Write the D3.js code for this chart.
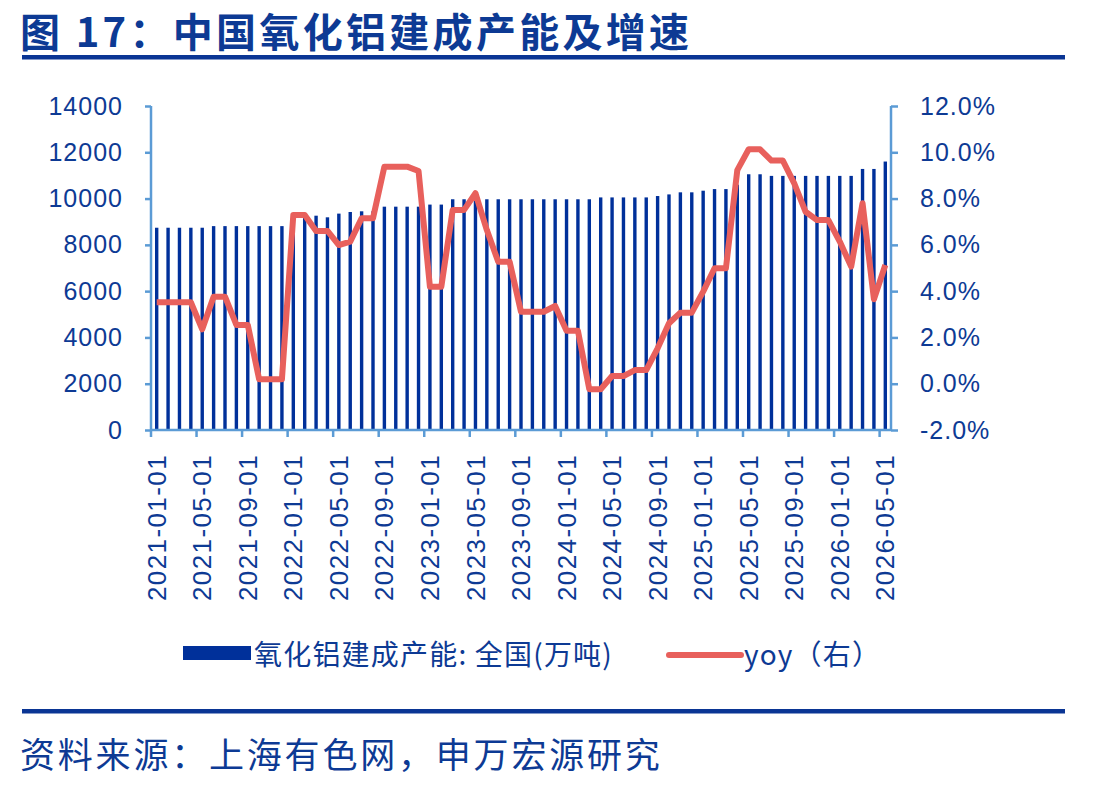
<!DOCTYPE html>
<html>
<head>
  <meta charset="utf-8" />
  <title>图 17：中国氧化铝建成产能及增速</title>
  <script src="https://cdn.jsdelivr.net/npm/d3@7"></script>
  <style>
    body { margin: 0; background: #fff; }
    svg { display: block; }
    .num { font-family: "Liberation Sans", Arial, sans-serif; fill: #0d3a94; }
    .cjk { font-family: "Noto Sans CJK SC", "Liberation Sans", sans-serif; fill: #0d3a94; }
  </style>
</head>
<body>
  <svg id="chart" width="1100" height="787"></svg>
  <script>
    // months 2021-01 .. 2026-05
    const months = d3.timeMonth.range(new Date(2021, 0, 1), new Date(2026, 5, 1)).map(d3.timeFormat("%Y-%m-%d"));

    // 氧化铝建成产能: 全国 (万吨)
    const capacity = [
      8740, 8740, 8740, 8740, 8740, 8810, 8810, 8810, 8810, 8810, 8810, 8810,
      9260, 9260, 9260, 9190, 9350, 9420, 9450, 9450, 9650, 9650, 9650, 9650,
      9740, 9740, 9970, 9970, 9970, 9970, 9970, 9970, 9970, 9970, 9970, 9970,
      9970, 9970, 9970, 10050, 10050, 10050, 10050, 10050, 10110, 10180, 10270, 10270,
      10340, 10410, 10410, 10600, 11050, 11050, 10980, 10980, 10980, 10980, 10980, 10980,
      10980, 10980, 11280, 11280, 11600
    ];

    // yoy (%), right axis
    const yoy = [
      3.52, 3.52, 3.52, 3.52, 2.35, 3.76, 3.76, 2.54, 2.54, 0.19, 0.19, 0.19,
      7.29, 7.29, 6.6, 6.6, 5.99, 6.14, 7.15, 7.15, 9.38, 9.38, 9.38, 9.19,
      4.19, 4.19, 7.51, 7.51, 8.23, 6.64, 5.27, 5.27, 3.11, 3.11, 3.11, 3.36,
      2.29, 2.29, -0.24, -0.24, 0.33, 0.33, 0.59, 0.59, 1.53, 2.61, 3.07, 3.07,
      3.98, 4.99, 4.99, 9.23, 10.13, 10.13, 9.64, 9.64, 8.66, 7.43, 7.07, 7.07,
      6.14, 5.06, 7.8, 3.65, 5.13
    ];

    const leftTicks = [0, 2000, 4000, 6000, 8000, 10000, 12000, 14000];
    const rightTicks = [-2, 0, 2, 4, 6, 8, 10, 12];

    const title = "图 17：中国氧化铝建成产能及增速";
    const source = "资料来源：上海有色网，申万宏源研究";
    const legendBar = "氧化铝建成产能: 全国(万吨)";
    const legendLine = "yoy（右）";

    const svg = d3.select("#chart");
    const axisColor = "#5b9bd5";
    const barColor = "#00309a";
    const lineColor = "#e8605c";

    const plot = { left: 151, right: 891, top: 106, bottom: 430 };

    const x = d3.scaleBand().domain(months).range([plot.left, plot.right]).paddingInner(0.71).paddingOuter(0.355);
    const step = (plot.right - plot.left) / months.length;
    const yL = d3.scaleLinear().domain([0, 14000]).range([plot.bottom, plot.top]);
    const yR = d3.scaleLinear().domain([-2, 12]).range([plot.bottom, plot.top]);
    const cx = d => plot.left + months.indexOf(d) * step + step / 2;

    // title and rules
    svg.append("text").attr("class", "cjk").attr("x", 20).attr("y", 47)
      .style("font-size", "40px").style("font-weight", "bold").style("letter-spacing", "3.3px")
      .text(title);
    svg.append("rect").attr("x", 22).attr("y", 55).attr("width", 1043).attr("height", 4.5).attr("fill", "#0a3594");
    svg.append("rect").attr("x", 22).attr("y", 709).attr("width", 1043).attr("height", 4.5).attr("fill", "#0a3594");
    svg.append("text").attr("class", "cjk").attr("x", 20).attr("y", 768)
      .style("font-size", "35px").style("letter-spacing", "2.8px")
      .text(source);

    // bars
    svg.append("g").selectAll("rect").data(months).join("rect")
      .attr("x", d => cx(d) - 1.7)
      .attr("width", 3.4)
      .attr("y", (d, i) => yL(capacity[i]))
      .attr("height", (d, i) => plot.bottom - yL(capacity[i]))
      .attr("fill", barColor);

    // left axis
    const gL = svg.append("g").attr("transform", `translate(${plot.left},0)`)
      .call(d3.axisLeft(yL).tickValues(leftTicks).tickSize(6).tickPadding(22).tickFormat(d3.format("d")));
    // right axis
    const gR = svg.append("g").attr("transform", `translate(${plot.right},0)`)
      .call(d3.axisRight(yR).tickValues(rightTicks).tickSize(7).tickPadding(22).tickFormat(d => d.toFixed(1) + "%"));
    // bottom axis: ticks between categories, every 4 months
    const tickMonths = months.filter((d, i) => i % 4 === 0);
    const gB = svg.append("g").attr("transform", `translate(0,${plot.bottom})`)
      .call(d3.axisBottom(x).tickValues(tickMonths).tickSize(0).tickPadding(0));
    gB.selectAll(".tick line").remove();
    gB.selectAll(".tick").append("line")
      .attr("x1", -step / 2).attr("x2", -step / 2).attr("y1", 0).attr("y2", 7);
    gB.select(".domain").attr("d", `M${plot.left},0H${plot.right}`);
    gB.selectAll(".tick text")
      .attr("transform", "rotate(-90)")
      .attr("x", -24).attr("y", 0).attr("dy", "0.35em")
      .attr("text-anchor", "end");

    [gL, gR, gB].forEach(g => {
      g.attr("font-family", null).attr("font-size", null);
      g.selectAll(".domain").attr("stroke", axisColor).attr("stroke-width", 2.5);
      g.selectAll(".tick line").attr("stroke", axisColor).attr("stroke-width", 2.5);
      g.selectAll(".tick text").attr("class", "num").style("font-size", "25px").style("letter-spacing", "1px");
    });
    gB.selectAll(".tick text").style("font-size", "26px").style("letter-spacing", "1.4px");
    gL.select(".domain").attr("d", `M0,${plot.top}V${plot.bottom}`);
    gR.select(".domain").attr("d", `M0,${plot.top}V${plot.bottom}`);

    // yoy line
    const line = d3.line().x(d => cx(d)).y((d, i) => yR(yoy[i]));
    svg.append("path").datum(months)
      .attr("d", line)
      .attr("fill", "none")
      .attr("stroke", lineColor)
      .attr("stroke-width", 6)
      .attr("stroke-linejoin", "round");

    // legend
    const lg = svg.append("g");
    lg.append("rect").attr("x", 183).attr("y", 646).attr("width", 68).attr("height", 14).attr("fill", barColor);
    lg.append("text").attr("class", "cjk").attr("x", 254).attr("y", 665)
      .style("font-size", "28px").style("letter-spacing", "1.2px").text(legendBar);
    lg.append("line").attr("x1", 669).attr("x2", 741).attr("y1", 655).attr("y2", 655)
      .attr("stroke", lineColor).attr("stroke-width", 6).attr("stroke-linecap", "round");
    lg.append("text").attr("class", "cjk").attr("x", 744).attr("y", 665)
      .style("font-size", "28px").style("letter-spacing", "1.2px").text(legendLine);
  </script>
</body>
</html>
